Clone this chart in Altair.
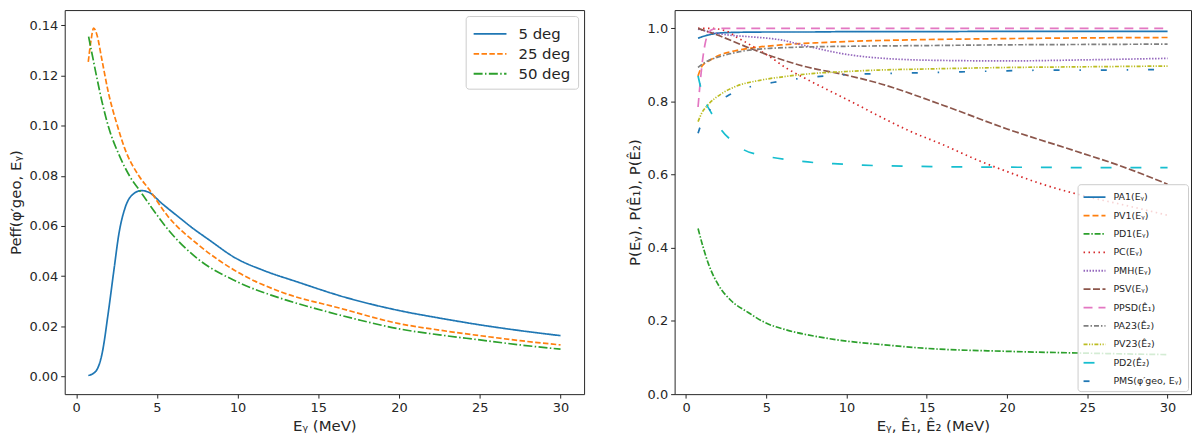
"""Detection probability curves: effective probability per angle and per-cut probabilities."""

import pandas as pd
import altair as alt

# ---- left panel: P_eff vs E_gamma for three angles ----
left_names = ["5 deg", "25 deg", "50 deg"]

x_5deg = [0.75, 1.2, 1.6, 2.0, 2.35, 2.65, 3.05, 3.55, 4.05, 4.5, 5.3, 6.3, 7.2, 8.2,
          9.9, 11.6, 13.7, 16.7, 20, 22.5, 25, 27.5, 30]
p_5deg = [0.0004, 0.002, 0.009, 0.026, 0.043, 0.057, 0.0676, 0.0728, 0.0741, 0.0734,
          0.0690, 0.0638, 0.0592, 0.0546, 0.0471, 0.0423, 0.0377, 0.0315, 0.0263,
          0.0233, 0.0206, 0.0183, 0.0163]

x_25deg = [0.75, 0.92, 1.08, 1.27, 1.6, 2.0, 2.55, 3.0, 3.88, 4.5, 5.7, 7.55, 10,
           12.65, 16.3, 20, 22.5, 25, 27.5, 30]
p_25deg = [0.1254, 0.1339, 0.1388, 0.1365, 0.1260, 0.1130, 0.1000, 0.0910, 0.0800,
           0.0747, 0.0637, 0.0526, 0.0416, 0.0338, 0.0273, 0.0211, 0.0185, 0.0163,
           0.0143, 0.0126]

x_50deg = [0.77, 1.0, 1.25, 1.6, 2.0, 2.65, 3.3, 4.0, 4.5, 5.7, 7.55, 10, 12.65, 14.7,
           17.5, 20, 22.5, 25, 27.5, 30]
p_50deg = [0.1354, 0.1280, 0.1200, 0.1095, 0.0995, 0.0884, 0.0800, 0.0735, 0.0689,
           0.0585, 0.0468, 0.0377, 0.0312, 0.0273, 0.0226, 0.0190, 0.0166, 0.0146,
           0.0126, 0.0109]

left_x = [x_5deg, x_25deg, x_50deg]
left_y = [p_5deg, p_25deg, p_50deg]

# ---- right panel: individual cut probabilities ----
right_names = ["PA1(Eᵧ)", "PV1(Eᵧ)", "PD1(Eᵧ)", "PC(Eᵧ)", "PMH(Eᵧ)", "PSV(Eᵧ)",
               "PPSD(Ê₁)", "PA23(Ê₂)", "PV23(Ê₂)", "PD2(Ê₂)", "PMS(φ′geo, Eᵧ)"]

x_a1 = [0.75, 1.0, 1.5, 2.0, 3.0, 5.0, 7.5, 10, 15, 20, 25, 30]
p_a1 = [0.973, 0.977, 0.983, 0.987, 0.989, 0.990, 0.990, 0.991, 0.991, 0.992, 0.992, 0.992]

x_v1 = [0.75, 1.0, 1.5, 2.15, 3.0, 4.2, 6.0, 8.4, 10, 14.5, 20, 25, 30]
p_v1 = [0.870, 0.897, 0.913, 0.928, 0.938, 0.947, 0.955, 0.961, 0.964, 0.969, 0.972,
        0.974, 0.975]

x_d1 = [0.75, 1.05, 1.45, 2.05, 2.8, 3.85, 4.85, 6.3, 8.2, 10, 12.3, 15, 20, 25, 30]
p_d1 = [0.453, 0.404, 0.350, 0.296, 0.256, 0.224, 0.197, 0.175, 0.157, 0.145, 0.135,
        0.125, 0.117, 0.112, 0.108]

x_c = [0.75, 1.5, 2.5, 3.2, 3.8, 5.3, 6.3, 7.3, 9.0, 10.5, 11.9, 14.0, 16.0, 18.1,
       20.15, 22.2, 24.7, 27.4, 30]
p_c = [1.0, 1.0, 0.993, 0.975, 0.960, 0.920, 0.890, 0.866, 0.828, 0.795, 0.763, 0.718,
       0.682, 0.641, 0.606, 0.574, 0.543, 0.516, 0.489]

x_mh = [0.75, 1.5, 2.6, 4.0, 5.3, 6.2, 7.0, 8.0, 9.0, 10, 11, 12, 15, 20, 25, 30]
p_mh = [0.998, 0.990, 0.982, 0.977, 0.972, 0.966, 0.957, 0.947, 0.937, 0.929, 0.923,
        0.919, 0.913, 0.911, 0.914, 0.918]

x_sv = [0.75, 2.0, 4.2, 7.3, 10, 12, 16, 20, 24.3, 27, 30]
p_sv = [1.0, 0.981, 0.942, 0.897, 0.872, 0.850, 0.790, 0.725, 0.664, 0.625, 0.574]

x_psd = [0.75, 0.9, 1.05, 1.2, 1.4, 1.7, 2.5, 5, 10, 20, 30]
p_psd = [0.785, 0.86, 0.92, 0.96, 0.988, 0.998, 1.0, 1.0, 1.0, 1.0, 1.0]

x_a23 = [0.75, 1.0, 1.35, 2.2, 3.2, 4.2, 5.5, 7.3, 10, 15, 20, 25, 30]
p_a23 = [0.893, 0.902, 0.911, 0.924, 0.935, 0.942, 0.946, 0.949, 0.951, 0.953, 0.955,
         0.956, 0.957]

x_v23 = [0.75, 1.0, 1.35, 2.2, 3.2, 4.6, 6.3, 8.0, 10, 12, 15, 20, 25, 30]
p_v23 = [0.745, 0.770, 0.790, 0.821, 0.843, 0.858, 0.869, 0.877, 0.882, 0.886, 0.889,
         0.893, 0.895, 0.897]

x_d2 = [0.75, 1.0, 1.25, 1.55, 2.2, 3.0, 3.6, 4.5, 5.25, 6.5, 8.0, 9.2, 11, 14, 18,
        22, 26, 30]
p_d2 = [0.870, 0.825, 0.795, 0.771, 0.722, 0.688, 0.668, 0.655, 0.648, 0.640, 0.633,
        0.630, 0.626, 0.623, 0.621, 0.620, 0.619, 0.619]

x_ms = [0.75, 1.0, 1.5, 2.0, 2.6, 3.9, 5.4, 6.9, 9.8, 14, 17, 20, 23, 26, 28.8, 30]
p_ms = [0.713, 0.745, 0.778, 0.800, 0.816, 0.839, 0.852, 0.862, 0.873, 0.878, 0.881,
        0.884, 0.886, 0.886, 0.887, 0.888]

right_x = [x_a1, x_v1, x_d1, x_c, x_mh, x_sv, x_psd, x_a23, x_v23, x_d2, x_ms]
right_y = [p_a1, p_v1, p_d1, p_c, p_mh, p_sv, p_psd, p_a23, p_v23, p_d2, p_ms]

# ---- styles (matplotlib tab10 + line styles) ----
left_colors = ["#1f77b4", "#ff7f0e", "#2ca02c"]
left_dashes = [[1, 0], [5.5, 2.4], [9, 2.4, 1.5, 2.4]]

right_colors = ["#1f77b4", "#ff7f0e", "#2ca02c", "#d62728", "#9467bd", "#8c564b",
                "#e377c2", "#7f7f7f", "#bcbd22", "#17becf", "#1f77b4"]
right_dashes = [[1, 0], [6, 3], [6, 1.8, 1.5, 1.8], [1.5, 3.5], [1.5, 1.5], [7, 2.5],
                [9, 6], [5, 2, 1.5, 2], [4, 1.5, 1.2, 1.5, 1.2, 1.5], [11, 19],
                [6, 20, 1.5, 20]]

FONT = "DejaVu Sans"
INK = "#262626"


def long_table(names, xs, ys):
    rows = []
    for i, (name, xv, yv) in enumerate(zip(names, xs, ys)):
        for a, b in zip(xv, yv):
            rows.append({"series": name, "order": i, "x": a, "y": b})
    return pd.DataFrame(rows)


left_df = long_table(left_names, left_x, left_y)
right_df = long_table(right_names, right_x, right_y)

x_ticks = [0, 5, 10, 15, 20, 25, 30]
x_scale = alt.Scale(domain=[-0.71, 31.46], nice=False, zero=False)

left_legend = alt.Legend(
    title=None, orient="top-right", offset=6, padding=7,
    strokeColor="#cccccc", fillColor="rgba(255,255,255,0.8)", cornerRadius=3,
    labelFont=FONT, labelFontSize=15, labelColor=INK, labelOffset=24,
    symbolType="M-1,0H2.3", symbolSize=400, symbolStrokeWidth=1.8, rowPadding=1,
)

left = alt.Chart(left_df).mark_line(strokeWidth=1.7, clip=True, interpolate="monotone").encode(
    x=alt.X("x:Q", scale=x_scale,
            axis=alt.Axis(values=x_ticks, format="d", title="Eᵧ (MeV)")),
    y=alt.Y("y:Q", scale=alt.Scale(domain=[-0.007, 0.146], nice=False, zero=False),
            axis=alt.Axis(values=[0, 0.02, 0.04, 0.06, 0.08, 0.10, 0.12, 0.14],
                          format=".2f", title="Peff(φ′geo, Eᵧ)")),
    color=alt.Color("series:N", sort=left_names,
                    scale=alt.Scale(domain=left_names, range=left_colors), legend=left_legend),
    strokeDash=alt.StrokeDash("series:N", sort=left_names,
                              scale=alt.Scale(domain=left_names, range=left_dashes),
                              legend=left_legend),
    order="order:Q",
).properties(width=522, height=386)

right_legend = alt.Legend(
    title=None, orient="bottom-right", offset=3, padding=5,
    strokeColor="#cccccc", fillColor="rgba(255,255,255,0.8)", cornerRadius=3,
    labelFont=FONT, labelFontSize=9.5, labelColor=INK, labelOffset=15,
    symbolType="M-1,0H2.15", symbolSize=196, symbolStrokeWidth=1.8, rowPadding=5.5,
)

right = alt.Chart(right_df).mark_line(strokeWidth=1.7, clip=True, interpolate="monotone").encode(
    x=alt.X("x:Q", scale=x_scale,
            axis=alt.Axis(values=x_ticks, format="d", title="Eᵧ, Ê₁, Ê₂ (MeV)")),
    y=alt.Y("y:Q", scale=alt.Scale(domain=[0, 1.05], nice=False, zero=False),
            axis=alt.Axis(values=[0, 0.2, 0.4, 0.6, 0.8, 1.0], format=".1f",
                          title="P(Eᵧ), P(Ê₁), P(Ê₂)")),
    color=alt.Color("series:N", sort=right_names,
                    scale=alt.Scale(domain=right_names, range=right_colors),
                    legend=right_legend),
    strokeDash=alt.StrokeDash("series:N", sort=right_names,
                              scale=alt.Scale(domain=right_names, range=right_dashes),
                              legend=right_legend),
    order="order:Q",
).properties(width=519, height=386)

chart = alt.hconcat(left, right, spacing=41).resolve_scale(
    color="independent", strokeDash="independent"
).resolve_legend(
    color="independent", strokeDash="independent"
).properties(
    padding={"left": 0, "top": 0, "right": 0, "bottom": 0}
).configure(
    font=FONT, background="white"
).configure_view(
    stroke=INK, strokeWidth=1
).configure_axis(
    domain=False, grid=False, labelFont=FONT, titleFont=FONT,
    labelFontSize=13, titleFontSize=15, titleFontWeight="normal",
    labelColor=INK, titleColor=INK, tickColor=INK, tickSize=4,
    labelPadding=3, titlePadding=5,
)

chart.save("out.html", embed_options={"renderer": "svg", "actions": False})
